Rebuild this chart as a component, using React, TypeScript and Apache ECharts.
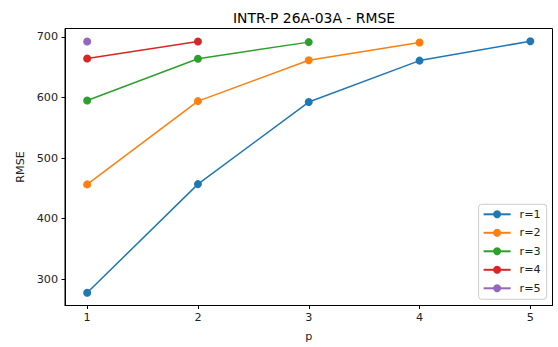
import React, { useEffect, useRef } from "react";
import * as echarts from "echarts";

const titleText = "INTR-P 26A-03A - RMSE";
const xName = "p";
const yName = "RMSE";
const xTicks = [1, 2, 3, 4, 5];
const yTicks = [300, 400, 500, 600, 700];
const seriesNames = ["r=1", "r=2", "r=3", "r=4", "r=5"];
const colors = ["#1f77b4", "#ff7f0e", "#2ca02c", "#d62728", "#9467bd"];
const pR1 = [1, 2, 3, 4, 5];
const rmseR1 = [277.5, 457, 592.5, 661, 693];
const pR2 = [1, 2, 3, 4];
const rmseR2 = [456.5, 594, 661.5, 691];
const pR3 = [1, 2, 3];
const rmseR3 = [595, 664, 691.5];
const pR4 = [1, 2];
const rmseR4 = [664.5, 692.5];
const pR5 = [1];
const rmseR5 = [692.5];

const allP = [pR1, pR2, pR3, pR4, pR5];
const allRmse = [rmseR1, rmseR2, rmseR3, rmseR4, rmseR5];

const FONT = "DejaVu Sans";
const TICK_FS = 11.2;

export default function App() {
  const ref = useRef<HTMLDivElement>(null);
  useEffect(() => {
    if (!ref.current) return;
    const chart = echarts.init(ref.current, null, { renderer: "svg" });
    chart.setOption({
      animation: false,
      backgroundColor: "#fff",
      textStyle: { fontFamily: FONT },
      title: {
        text: titleText,
        left: 309,
        top: 6,
        textAlign: "center",
        textStyle: { fontFamily: FONT, fontSize: 13.9, fontWeight: "normal", color: "#000" },
      },
      grid: {
        left: 65,
        right: 5.5,
        top: 28.5,
        bottom: 41.5,
        show: true,
        borderColor: "#000",
        borderWidth: 1,
        backgroundColor: "transparent",
      },
      legend: {
        orient: "vertical",
        right: 11.3,
        bottom: 47.7,
        data: seriesNames,
        itemWidth: 27,
        itemHeight: 10,
        itemGap: 4.5,
        padding: [3, 6, 4, 4],
        borderColor: "#ccc",
        borderWidth: 1,
        borderRadius: 3,
        backgroundColor: "rgba(255,255,255,0.8)",
        textStyle: { fontFamily: FONT, fontSize: TICK_FS, color: "#222", lineHeight: 14, padding: [0, 0, 0, 4] },
      },
      xAxis: {
        type: "value",
        min: 0.8,
        max: 5.2,
        name: xName,
        nameLocation: "middle",
        nameGap: 25,
        nameTextStyle: { fontFamily: FONT, fontSize: TICK_FS, color: "#222" },
        splitLine: { show: false },
        axisLine: { show: true, onZero: false, lineStyle: { color: "#000", width: 1 } },
        axisTick: { show: true, length: 3.5, lineStyle: { color: "#000" }, customValues: xTicks },
        axisLabel: { fontFamily: FONT, fontSize: TICK_FS, color: "#222", margin: 6, customValues: xTicks },
      },
      yAxis: {
        type: "value",
        min: 256.5,
        max: 714,
        name: yName,
        nameLocation: "middle",
        nameGap: 38,
        nameTextStyle: { fontFamily: FONT, fontSize: TICK_FS, color: "#222" },
        splitLine: { show: false },
        axisLine: { show: true, onZero: false, lineStyle: { color: "#000", width: 1 } },
        axisTick: { show: true, length: 3.5, lineStyle: { color: "#000" }, customValues: yTicks },
        axisLabel: { fontFamily: FONT, fontSize: TICK_FS, color: "#222", margin: 7, customValues: yTicks },
      },
      series: seriesNames.map((name, i) => ({
        name,
        type: "line",
        data: allP[i].map((p, j) => [p, allRmse[i][j]]),
        symbol: "circle",
        symbolSize: 8,
        showSymbol: true,
        color: colors[i],
        lineStyle: { width: 1.5, color: colors[i] },
        itemStyle: { color: colors[i] },
        z: 2 + i,
      })),
    });
    return () => chart.dispose();
  }, []);
  return <div ref={ref} style={{ width: 558, height: 347, position: "absolute", left: 0, top: 0 }} />;
}
